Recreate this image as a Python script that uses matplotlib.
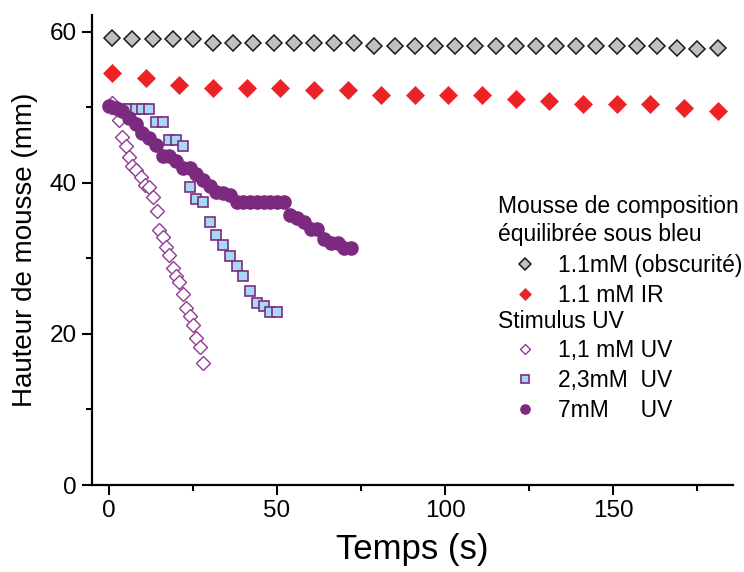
import matplotlib
matplotlib.use("Agg")
import matplotlib.pyplot as plt
from matplotlib.ticker import MultipleLocator

plt.rcParams["font.family"] = ["Liberation Sans", "DejaVu Sans"]

# time (s) and foam height (mm)
dark_t = [1, 7, 13, 19, 25, 31, 37, 43, 49, 55, 61, 67, 73, 79, 85, 91,
          97, 103, 109, 115, 121, 127, 133, 139, 145, 151, 157, 163, 169, 175, 181]
dark_h = [59.2, 59.0, 59.0, 59.0, 59.0, 58.5, 58.5, 58.5, 58.5, 58.5, 58.5, 58.5, 58.5,
          58.1, 58.1, 58.1, 58.1, 58.1, 58.1, 58.1, 58.1, 58.1, 58.1, 58.1, 58.1, 58.1,
          58.1, 58.1, 57.8, 57.7, 57.8]

ir_t = [1, 11, 21, 31, 41, 51, 61, 71, 81, 91, 101, 111, 121, 131, 141, 151, 161, 171, 181]
ir_h = [54.5, 53.8, 52.9, 52.5, 52.5, 52.5, 52.3, 52.3, 51.6, 51.6, 51.6, 51.6,
        51.1, 50.8, 50.4, 50.4, 50.4, 49.9, 49.5]

uv11_t = [1, 3, 4, 5, 6, 7, 8, 9.7, 10.7, 12, 13, 14.2, 15, 16, 17, 18, 19, 20,
          21, 22, 23, 24, 25, 26, 27, 28]
uv11_h = [50.5, 48.3, 46.1, 44.8, 43.4, 42.2, 41.7, 40.8, 39.7, 39.5, 38.1, 36.2,
          33.7, 32.8, 31.5, 30.4, 28.7, 27.6, 26.9, 25.3, 23.4, 22.3, 21.2, 19.4, 18.3, 16.2]

uv23_t = [2, 4, 6, 8, 10, 12, 14, 16, 18, 20, 22, 24, 26, 28, 30, 32, 34, 36, 38,
          40, 42, 44, 46, 48, 50]
uv23_h = [49.8, 49.8, 49.8, 49.8, 49.8, 49.8, 48.0, 48.0, 45.6, 45.6, 44.8, 39.5,
          37.8, 37.4, 34.8, 33.1, 31.8, 30.3, 29.0, 27.7, 25.7, 24.1, 23.7, 22.9, 22.9]

uv7_t = [0, 2, 4, 6, 8, 10, 12, 14, 16, 18, 20, 22, 24, 26, 28, 30, 32, 34, 36, 38,
         40, 42, 44, 46, 48, 50, 52, 54, 56, 58, 60, 62, 64, 66, 68, 70, 72]
uv7_h = [50.2, 49.9, 49.5, 48.6, 47.8, 46.6, 45.9, 45.0, 43.5, 43.5, 42.9, 42.0,
         42.0, 41.2, 40.4, 39.6, 38.8, 38.7, 38.4, 37.5, 37.5, 37.5, 37.5, 37.5, 37.5,
         37.5, 37.5, 35.7, 35.4, 34.8, 33.9, 33.9, 32.5, 32.0, 32.0, 31.3, 31.3]

fig = plt.figure(figsize=(7.44, 5.72), dpi=100)
ax = fig.add_axes([92 / 744, 1 - 485 / 572, (733 - 92) / 744, (485 - 15) / 572])

h_dark, = ax.plot(dark_t, dark_h, "D", ms=8.5, mfc="#c0c0c0", mec="#1a1a1a", mew=1.1,
                  ls="none", label="1.1mM (obscurité)")
h_ir, = ax.plot(ir_t, ir_h, "D", ms=9, mfc="#ee2226", mec="#ee2226", mew=0.5,
                ls="none", label="1.1 mM IR")
h_11, = ax.plot(uv11_t, uv11_h, "D", ms=7.5, mfc="white", mec="#8e3c93", mew=1.0,
                ls="none", label="1,1 mM UV")
h_23, = ax.plot(uv23_t, uv23_h, "s", ms=7.5, mfc="#a9d9f2", mec="#7a2c82", mew=1.2,
                ls="none", label="2,3mM  UV")
h_7, = ax.plot(uv7_t, uv7_h, "o", ms=9.5, mfc="#7b2a7f", mec="#7b2a7f",
               ls="none", label="7mM     UV")

ax.set_xlim(-5, 185.6)
ax.set_ylim(0, 62.2)
ax.xaxis.set_major_locator(MultipleLocator(50))
ax.xaxis.set_minor_locator(MultipleLocator(25))
ax.yaxis.set_major_locator(MultipleLocator(20))
ax.yaxis.set_minor_locator(MultipleLocator(10))
for s in ["top", "right"]:
    ax.spines[s].set_visible(False)
for s in ["left", "bottom"]:
    ax.spines[s].set_linewidth(1.6)
ax.tick_params(which="major", length=7, width=1.5, labelsize=17.5, pad=4)
ax.tick_params(which="minor", length=4, width=1.5)

ax.set_xlabel("Temps (s)", fontsize=25, labelpad=8)
ax.set_ylabel("Hauteur de mousse (mm)", fontsize=20, labelpad=8)

# legend headers
fs = 16.5
for txt, ypix in [("Mousse de composition", 207), ("équilibrée sous bleu", 235),
                  ("Stimulus UV", 322)]:
    fig.text(498 / 744, 1 - ypix / 572, txt, fontsize=fs, ha="left", va="center")

leg_kw = dict(frameon=False, fontsize=fs, handlelength=2.36, handletextpad=0.26,
              labelspacing=0.3, markerscale=0.7, borderpad=0, borderaxespad=0,
              loc="upper left", bbox_transform=fig.transFigure)
leg1 = ax.legend(handles=[h_dark, h_ir], bbox_to_anchor=(498 / 744, 1 - 254 / 572), **leg_kw)
ax.add_artist(leg1)
ax.legend(handles=[h_11, h_23, h_7], bbox_to_anchor=(498 / 744, 1 - 339 / 572), **leg_kw)

fig.savefig("out.png", dpi=100)
